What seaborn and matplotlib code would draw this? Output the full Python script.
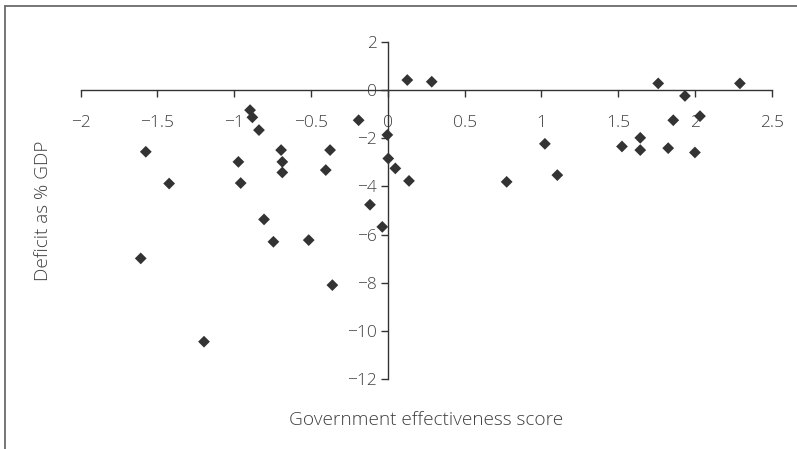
import matplotlib
matplotlib.use("Agg")
import matplotlib.pyplot as plt
from matplotlib.lines import Line2D
from matplotlib.ticker import FuncFormatter
import pandas as pd
import seaborn as sns

# Government effectiveness score (x) and budget deficit as % of GDP (y)
effectiveness = [
    -1.576, -1.424, -1.609, -1.197, -0.897, -0.882, -0.839, -0.973, -0.958,
    -0.806, -0.745, -0.515, -0.361, -0.695, -0.687, -0.687, -0.376, -0.404,
    -0.190, -0.116, -0.036, -0.003, 0.003, 0.049, 0.138, 0.127, 0.286,
    0.774, 1.023, 1.104, 1.525, 1.644, 1.644, 1.761, 1.935, 1.859, 2.033,
    1.826, 2.000, 2.293,
]
deficit = [
    -2.56, -3.88, -6.99, -10.45, -0.83, -1.13, -1.66, -2.98, -3.86,
    -5.37, -6.30, -6.23, -8.10, -2.49, -2.98, -3.42, -2.49, -3.32,
    -1.25, -4.76, -5.68, -1.86, -2.84, -3.25, -3.77, 0.42, 0.35,
    -3.81, -2.23, -3.53, -2.34, -1.98, -2.49, 0.28, -0.24, -1.25, -1.08,
    -2.41, -2.59, 0.28,
]
x_ticks = [-2, -1.5, -1, -0.5, 0, 0.5, 1, 1.5, 2, 2.5]
y_ticks = [-12, -10, -8, -6, -4, -2, 0, 2]

df = pd.DataFrame({"effectiveness": effectiveness, "deficit": deficit})

sns.set_style("white")
plt.rcParams["font.family"] = ["Open Sans", "DejaVu Sans"]

text_color = "#404040"
axis_color = "#333333"

fig = plt.figure(figsize=(7.97, 4.49), dpi=100)
ax = fig.add_axes([80.7 / 797, 70 / 449, 691 / 797, 337 / 449])

sns.scatterplot(data=df, x="effectiveness", y="deficit", ax=ax,
                marker="D", s=36, color="#333333", edgecolor="none",
                linewidth=0, zorder=3, legend=False)

ax.set_xlim(x_ticks[0], x_ticks[-1])
ax.set_ylim(y_ticks[0], y_ticks[-1])
ax.set_xticks(x_ticks)
ax.set_yticks(y_ticks)

fmt = FuncFormatter(lambda v, pos: f"{v:g}".replace("-", "\u2212"))
ax.xaxis.set_major_formatter(fmt)
ax.yaxis.set_major_formatter(fmt)

# Axes cross at the origin
ax.spines["left"].set_position(("data", 0))
ax.spines["bottom"].set_position(("data", 0))
ax.spines["top"].set_visible(False)
ax.spines["right"].set_visible(False)
for side in ("left", "bottom"):
    ax.spines[side].set_color(axis_color)
    ax.spines[side].set_linewidth(1.0)

ax.tick_params(axis="x", direction="out", length=5, width=1, color=axis_color,
               pad=13, labelsize=12.5, labelcolor=text_color, bottom=True)
ax.tick_params(axis="y", direction="out", length=5, width=1, color=axis_color,
               pad=3, labelsize=12.5, labelcolor=text_color, left=True)
for lbl in ax.get_xticklabels() + ax.get_yticklabels():
    lbl.set_fontweight("light")

ax.set_xlabel("Government e\ufb00ectiveness score", fontsize=13.7,
              color=text_color, fontweight="light")
ax.set_ylabel("De\ufb01cit as % GDP", fontsize=13.7,
              color=text_color, fontweight="light")
ax.xaxis.set_label_coords(0.5, -0.095)
ax.yaxis.set_label_coords(-0.041, 0.5)

# Outer frame lines along the left and top of the figure
frame_color = "#6a6a6a"
fig.add_artist(Line2D([5 / 797, 5 / 797], [0, 443 / 449],
                      transform=fig.transFigure, color=frame_color, lw=1.3))
fig.add_artist(Line2D([5 / 797, 1], [443 / 449, 443 / 449],
                      transform=fig.transFigure, color=frame_color, lw=1.3))

fig.savefig("out.png", dpi=100)
